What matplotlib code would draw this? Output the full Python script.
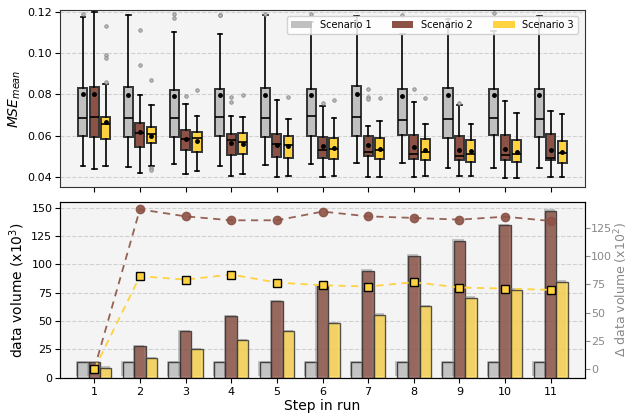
import matplotlib
matplotlib.use("Agg")
import matplotlib.pyplot as plt
import matplotlib.patheffects as pe
from matplotlib.patches import Patch
import numpy as np

steps = [1, 2, 3, 4, 5, 6, 7, 8, 9, 10, 11]
scenarios = ["Scenario 1", "Scenario 2", "Scenario 3"]

# MSE box statistics per scenario (one value per step)
s1_whislo = [0.0452, 0.0446, 0.0463, 0.0454, 0.0455, 0.0463, 0.0467, 0.0468, 0.0444, 0.0444, 0.0442]
s1_q1     = [0.0597, 0.0593, 0.0593, 0.0600, 0.0593, 0.0597, 0.0600, 0.0603, 0.0587, 0.0603, 0.0591]
s1_med    = [0.0686, 0.0687, 0.0684, 0.0689, 0.0686, 0.0694, 0.0692, 0.0677, 0.0681, 0.0684, 0.0681]
s1_q3     = [0.0833, 0.0835, 0.0823, 0.0825, 0.0830, 0.0827, 0.0840, 0.0828, 0.0832, 0.0828, 0.0828]
s1_whishi = [0.1176, 0.1188, 0.1101, 0.1094, 0.1185, 0.1150, 0.1183, 0.1093, 0.1167, 0.1106, 0.1183]
s1_mean   = [0.0801, 0.0798, 0.0793, 0.0796, 0.0798, 0.0798, 0.0801, 0.0794, 0.0796, 0.0799, 0.0799]
s1_fliers = [[0.1192], [], [0.1190, 0.1171], [0.1188, 0.1186], [0.1192], [0.1192], [], [0.1188], [], [0.1195], []]

s2_whislo = [0.0439, 0.0418, 0.0413, 0.0405, 0.0400, 0.0399, 0.0400, 0.0400, 0.0403, 0.0395, 0.0397]
s2_q1     = [0.0595, 0.0543, 0.0531, 0.0506, 0.0497, 0.0489, 0.0499, 0.0488, 0.0481, 0.0481, 0.0480]
s2_med    = [0.0689, 0.0611, 0.0585, 0.0579, 0.0561, 0.0531, 0.0520, 0.0509, 0.0501, 0.0506, 0.0492]
s2_q3     = [0.0838, 0.0663, 0.0627, 0.0606, 0.0608, 0.0593, 0.0600, 0.0603, 0.0598, 0.0604, 0.0606]
s2_whishi = [0.1198, 0.0796, 0.0755, 0.0697, 0.0773, 0.0744, 0.0647, 0.0762, 0.0746, 0.0768, 0.0720]
s2_mean   = [0.0801, 0.0619, 0.0585, 0.0562, 0.0553, 0.0548, 0.0553, 0.0543, 0.0531, 0.0533, 0.0531]
s2_fliers = [[], [0.1115, 0.0942], [0.0791], [0.0786, 0.0765], [], [0.0757], [0.0825, 0.0786, 0.0778], [0.0825], [0.0760], [], []]

s3_whislo = [0.0454, 0.0450, 0.0426, 0.0415, 0.0405, 0.0405, 0.0400, 0.0402, 0.0402, 0.0395, 0.0397]
s3_q1     = [0.0582, 0.0564, 0.0522, 0.0509, 0.0491, 0.0485, 0.0484, 0.0480, 0.0473, 0.0470, 0.0467]
s3_med    = [0.0655, 0.0608, 0.0588, 0.0569, 0.0556, 0.0533, 0.0528, 0.0520, 0.0510, 0.0510, 0.0514]
s3_q3     = [0.0692, 0.0642, 0.0616, 0.0611, 0.0598, 0.0590, 0.0588, 0.0583, 0.0580, 0.0580, 0.0575]
s3_whishi = [0.0850, 0.0747, 0.0697, 0.0689, 0.0682, 0.0684, 0.0671, 0.0658, 0.0656, 0.0710, 0.0707]
s3_mean   = [0.0668, 0.0598, 0.0572, 0.0558, 0.0548, 0.0540, 0.0535, 0.0528, 0.0525, 0.0519, 0.0520]
s3_fliers = [[0.1133, 0.0992, 0.0976, 0.0860], [0.0869, 0.0441, 0.0434], [0.0822], [0.0797], [0.0786], [0.0773], [0.0783], [0.0780], [], [], []]

# Data volume (x10^3) bars
vol_s1 = [13.5, 13.5, 13.5, 13.5, 13.5, 13.5, 13.5, 13.5, 13.5, 13.5, 13.5]
vol_s2 = [13.5, 27.8, 41.0, 54.1, 67.3, 81.0, 94.5, 107.6, 120.8, 134.5, 147.5]
vol_s3 = [8.8, 17.0, 24.9, 33.0, 41.0, 48.3, 55.6, 63.2, 70.5, 77.8, 84.6]

# Delta data volume (x10^2) lines
delta_s2 = [0.0, 141.5, 135.3, 131.8, 131.8, 139.5, 135.3, 133.9, 132.4, 135.0, 131.2]
delta_s3 = [0.0, 82.3, 79.3, 83.8, 76.7, 74.3, 73.2, 77.0, 72.3, 71.4, 70.2]

c_gray = "#c0c0c0"
c_brown = "#8c5245"
c_yellow = "#ffd23f"
edge = "#2b2b2b"
bg = "#f4f4f4"
TICK = 8

fig = plt.figure(figsize=(6.29, 4.17), dpi=100)
ax1 = fig.add_axes([60/629, 1-187/417, 525/629, 177/417])
ax2 = fig.add_axes([60/629, 1-377.7/417, 525/629, 175.7/417], sharex=ax1)

for ax in (ax1, ax2):
    ax.set_facecolor(bg)
    ax.set_axisbelow(True)
    ax.yaxis.grid(True, linestyle="--", color="#d0d0d0", linewidth=0.8)
    for sp in ax.spines.values():
        sp.set_color("#333333")

def make_stats(wl, q1, med, q3, wh, mn, fl):
    out = []
    for i in range(len(steps)):
        out.append(dict(whislo=wl[i], q1=q1[i], med=med[i], q3=q3[i],
                        whishi=wh[i], mean=mn[i], fliers=fl[i]))
    return out

groups = [
    (make_stats(s1_whislo, s1_q1, s1_med, s1_q3, s1_whishi, s1_mean, s1_fliers), -0.25, c_gray),
    (make_stats(s2_whislo, s2_q1, s2_med, s2_q3, s2_whishi, s2_mean, s2_fliers), 0.0, c_brown),
    (make_stats(s3_whislo, s3_q1, s3_med, s3_q3, s3_whishi, s3_mean, s3_fliers), 0.25, c_yellow),
]
x = np.array(steps, dtype=float)
for stats, off, col in groups:
    ax1.bxp(stats, positions=x + off, widths=0.2, patch_artist=True,
            showmeans=True, manage_ticks=False,
            boxprops=dict(facecolor=col, edgecolor="#333333", linewidth=1.4),
            medianprops=dict(color="black", linewidth=1.2),
            whiskerprops=dict(color="black", linewidth=1.2),
            capprops=dict(color="black", linewidth=1.2),
            flierprops=dict(marker="o", markersize=2.5, markerfacecolor="#bbbbbb",
                            markeredgecolor="#888888", markeredgewidth=0.6),
            meanprops=dict(marker="o", markersize=2.5, markerfacecolor="black",
                           markeredgecolor="black"))

ax1.set_ylim(0.035, 0.121)
ax1.set_yticks([0.04, 0.06, 0.08, 0.10, 0.12])
ax1.set_ylabel("$MSE_{mean}$", fontsize=10, labelpad=3)
ax1.tick_params(labelsize=TICK, labelbottom=False)
ax1.tick_params(axis="y", pad=2)
handles = [Patch(facecolor=c, edgecolor="none") for c in (c_gray, c_brown, c_yellow)]
ax1.legend(handles, scenarios, loc="upper right", ncol=3, fontsize=7,
           frameon=True, framealpha=0.85, borderaxespad=0.0,
           handlelength=2.2, handletextpad=0.8, columnspacing=2.1,
           bbox_to_anchor=(1 - 7/525, 1 - 6/177))

shadow = [pe.SimplePatchShadow(offset=(-1, 1), shadow_rgbFace="#777777", alpha=0.4), pe.Normal()]
bw = 0.25
for vals, off, col, a in ((vol_s1, -0.25, "#c4c4c4", 0.85), (vol_s2, 0.0, c_brown, 0.8), (vol_s3, 0.25, "#ffd54f", 0.8)):
    bars = ax2.bar(x + off, vals, width=bw, color=col, alpha=a, edgecolor=edge, linewidth=1.0)
    for b in bars:
        b.set_path_effects(shadow)

ax2.set_ylim(0, 155)
ax2.set_yticks([0, 25, 50, 75, 100, 125, 150])
ax2.set_ylabel("data volume (x10$^3$)", fontsize=10, labelpad=3)
ax2.set_xlabel("Step in run", fontsize=10, labelpad=1)
ax2.set_xticks(steps)
ax2.set_xlim(0.25, 11.75)
ax2.tick_params(labelsize=TICK)
ax2.tick_params(axis="y", pad=2)

ax3 = ax2.twinx()
ax3.plot(x, delta_s2, linestyle="--", marker="o", color="#8c5245", markersize=6,
         linewidth=1.3, alpha=0.9, dashes=(4, 3))
ax3.plot(x, delta_s3, linestyle="--", marker="s", color="#ffd23f", markersize=6,
         markeredgecolor="black", markeredgewidth=1.0, linewidth=1.3, dashes=(4, 3))
ax3.set_ylim(-7.5, 148)
ax3.set_yticks([0, 25, 50, 75, 100, 125])
ax3.set_ylabel("Δ data volume (x10$^2$)", fontsize=9, color="#888888", labelpad=0)
ax3.tick_params(labelsize=TICK, colors="#888888", pad=1)

fig.savefig("out.png", dpi=100)
